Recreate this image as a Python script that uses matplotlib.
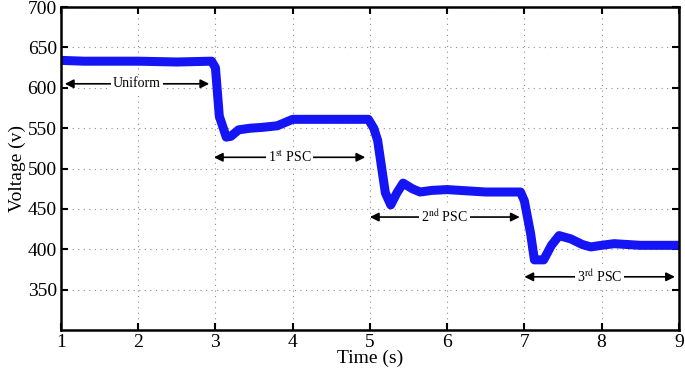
import matplotlib.pyplot as plt

plt.rcParams['font.family'] = ['Liberation Serif', 'DejaVu Serif']
plt.rcParams['mathtext.fontset'] = 'stix'

# voltage trace
time = [1.0, 1.3, 1.5, 2.0, 2.5, 2.95, 3.0, 3.05, 3.14, 3.2, 3.3, 3.45, 3.6, 3.8, 4.0,
        4.5, 4.98, 5.05, 5.1, 5.2, 5.27, 5.35, 5.43, 5.55, 5.65, 5.8, 6.0, 6.5, 6.95,
        7.0, 7.08, 7.13, 7.25, 7.35, 7.45, 7.6, 7.75, 7.86, 8.0, 8.16, 8.5, 9.0]
voltage = [634, 633, 633, 633, 632, 633, 625, 565, 539, 540, 548, 550, 551, 553, 561,
           561, 561, 550, 535, 470, 455, 470, 482, 475, 471, 473, 474, 471, 471,
           460, 420, 387, 387, 405, 417, 413, 406, 403, 405, 407, 405, 405]

# regions marked with arrows: (label, start, end, voltage level)
regions = [
    ('Uniform', 1.05, 2.92, 605),
    (r'1$^{\mathrm{st}}$ PSC', 2.98, 4.94, 514),
    (r'2$^{\mathrm{nd}}$ PSC', 5.0, 6.94, 440),
    (r'3$^{\mathrm{rd}}$ PSC', 7.0, 8.95, 366),
]

fig = plt.figure(figsize=(6.85, 3.73), dpi=100)
ax = fig.add_axes([0.089, 0.115, 0.902, 0.866])

ax.plot(time, voltage, color='#1414f5', lw=6.5, solid_joinstyle='round',
        solid_capstyle='butt')

for label, x0, x1, y in regions:
    ax.annotate('', xy=(x0, y), xytext=(x1, y),
                arrowprops=dict(arrowstyle='<|-|>', color='black', lw=1.2,
                                mutation_scale=13, shrinkA=0, shrinkB=0))
    ax.text((x0 + x1) / 2, y, label, ha='center', va='center', fontsize=10,
            bbox=dict(facecolor='white', edgecolor='none', pad=1.5))

ax.set_xlim(1, 9)
ax.set_ylim(300, 700)
ax.set_xticks(range(1, 10))
ax.set_yticks(range(350, 701, 50))
ax.grid(True, ls=(0, (1, 4)), color='#8c8c8c', lw=0.8)
ax.tick_params(direction='in', top=True, right=True, length=5, width=1.5,
               labelsize=14, pad=3)
for s in ax.spines.values():
    s.set_linewidth(1.8)

ax.set_xlabel('Time (s)', fontsize=14, labelpad=-1)
ax.set_ylabel('Voltage (v)', fontsize=14, labelpad=1)

fig.savefig('out.png', dpi=100)
